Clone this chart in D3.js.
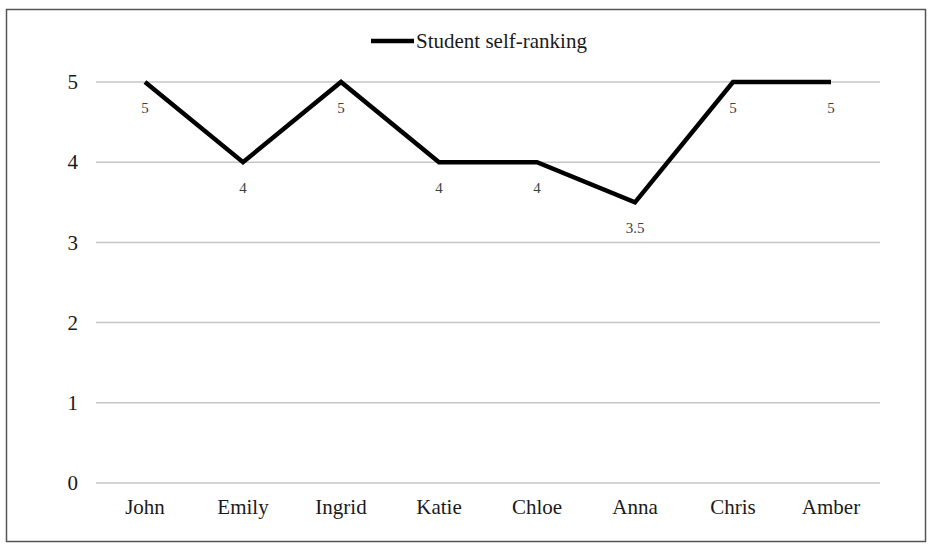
<!DOCTYPE html>
<html>
  <head>
    <meta charset="utf-8">
    <title>Student self-ranking</title>
    <script src="https://d3js.org/d3.v7.min.js"></script>
    <style>
      body { margin: 0; background: #fff; }
      svg, svg text { font-family: "Liberation Serif", "Times New Roman", Tinos, "DejaVu Serif", "Noto Serif", serif !important; }
      .grid line { stroke: #c6c6c6; stroke-width: 1.5; }
    </style>
  </head>
  <body>
    <svg id="chart" width="932" height="547"></svg>
    <script>
      // data
      var students = ["John", "Emily", "Ingrid", "Katie", "Chloe", "Anna", "Chris", "Amber"];
      var selfRanking = [5, 4, 5, 4, 4, 3.5, 5, 5];
      var yTicks = [0, 1, 2, 3, 4, 5];
      var seriesName = "Student self-ranking";

      var width = 932, height = 547;
      var margin = { top: 82, right: 52, bottom: 64, left: 96 };
      var svg = d3.select("#chart");

      // outer frame
      svg.append("rect")
        .attr("x", 6.5).attr("y", 9.5)
        .attr("width", width - 13).attr("height", height - 15)
        .attr("fill", "none")
        .attr("stroke", "#555")
        .attr("stroke-width", 1.5);

      var x = d3.scaleBand()
        .domain(students)
        .range([margin.left, width - margin.right]);
      var y = d3.scaleLinear()
        .domain([0, 5])
        .range([height - margin.bottom, margin.top]);

      // gridlines
      svg.append("g")
        .attr("class", "grid")
        .selectAll("line")
        .data(yTicks)
        .enter().append("line")
          .attr("x1", margin.left)
          .attr("x2", width - margin.right)
          .attr("y1", function(d) { return y(d); })
          .attr("y2", function(d) { return y(d); });

      // y axis labels
      var yAxis = d3.axisLeft(y).tickValues(yTicks).tickFormat(d3.format("d")).tickSize(0).tickPadding(0);
      svg.append("g")
        .attr("transform", "translate(" + (margin.left - 18) + ",0)")
        .call(yAxis)
        .call(function(g) { g.select(".domain").remove(); })
        .selectAll("text")
          .attr("font-size", 21)
          .attr("fill", "#1a1a1a");

      // x axis labels
      var xAxis = d3.axisBottom(x).tickSize(0).tickPadding(0);
      svg.append("g")
        .attr("transform", "translate(0," + (y(0) + 16) + ")")
        .call(xAxis)
        .call(function(g) { g.select(".domain").remove(); })
        .selectAll("text")
          .attr("font-size", 21)
          .attr("fill", "#1a1a1a");

      // line
      var line = d3.line()
        .x(function(d, i) { return x(students[i]) + x.bandwidth() / 2; })
        .y(function(d) { return y(d); });
      svg.append("path")
        .datum(selfRanking)
        .attr("d", line)
        .attr("fill", "none")
        .attr("stroke", "#000")
        .attr("stroke-width", 4.5)
        .attr("stroke-linejoin", "miter");

      // data labels
      svg.append("g")
        .selectAll("text")
        .data(selfRanking)
        .enter().append("text")
          .attr("x", function(d, i) { return x(students[i]) + x.bandwidth() / 2; })
          .attr("y", function(d) { return y(d) + 31; })
          .attr("text-anchor", "middle")
          .attr("font-size", 15)
          .attr("fill", "#404040")
          .text(function(d) { return d; });

      // legend
      var legend = svg.append("g").attr("transform", "translate(371,41)");
      legend.append("line")
        .attr("x1", 0).attr("x2", 43)
        .attr("stroke", "#000")
        .attr("stroke-width", 4.5);
      legend.append("text")
        .attr("x", 45)
        .attr("dy", "0.32em")
        .attr("font-size", 21)
        .attr("fill", "#1a1a1a")
        .text(seriesName);
    </script>
  </body>
</html>
